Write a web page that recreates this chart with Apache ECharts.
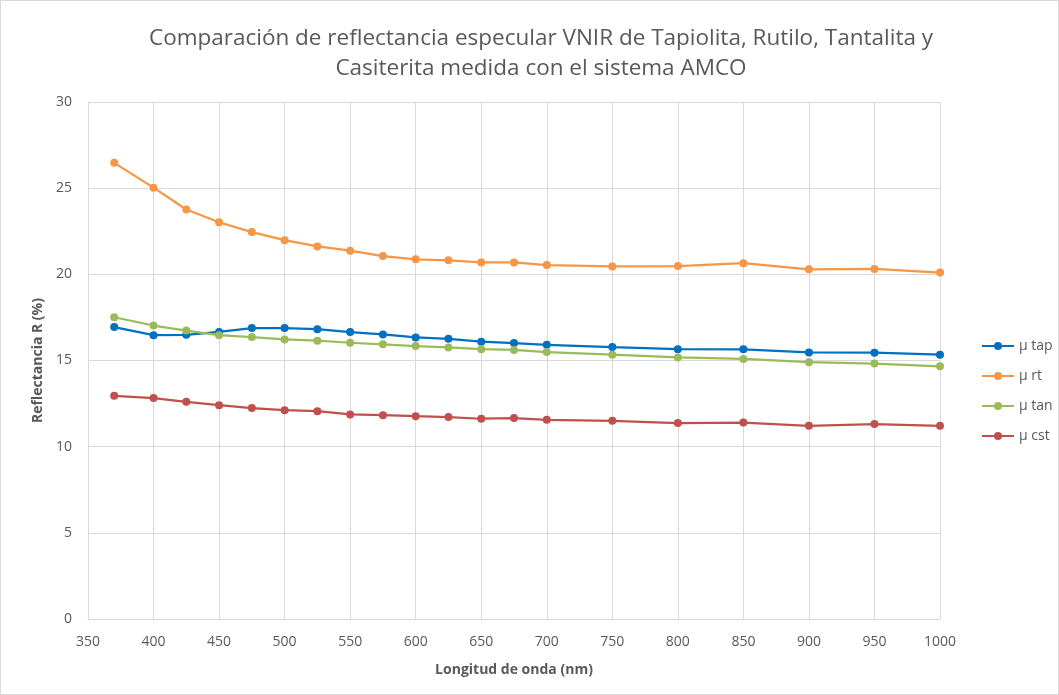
<!DOCTYPE html>
<html>
<head>
<meta charset="utf-8">
<script src="https://cdn.jsdelivr.net/npm/echarts@6/dist/echarts.min.js"></script>
<style>
  html, body { margin: 0; padding: 0; background: #fff; }
  #chart { width: 1057px; height: 693px; border: 1px solid #d9d9d9; }
</style>
</head>
<body>
<div id="chart"></div>
<script>
// longitudes de onda (nm)
var wavelengths = [370, 400, 425, 450, 475, 500, 525, 550, 575, 600, 625, 650, 675, 700, 750, 800, 850, 900, 950, 1000];
// reflectancia media (%)
var muTap = [16.94, 16.47, 16.49, 16.66, 16.88, 16.88, 16.82, 16.65, 16.51, 16.34, 16.26, 16.09, 16.01, 15.91, 15.78, 15.66, 15.65, 15.47, 15.45, 15.34];
var muRt  = [26.47, 25.03, 23.76, 23.02, 22.45, 21.98, 21.62, 21.37, 21.06, 20.87, 20.81, 20.69, 20.69, 20.54, 20.46, 20.48, 20.65, 20.29, 20.31, 20.10];
var muTan = [17.51, 17.03, 16.74, 16.47, 16.36, 16.22, 16.15, 16.03, 15.94, 15.84, 15.76, 15.66, 15.61, 15.49, 15.34, 15.18, 15.09, 14.90, 14.82, 14.66];
var muCst = [12.95, 12.82, 12.60, 12.41, 12.24, 12.12, 12.06, 11.87, 11.83, 11.77, 11.72, 11.62, 11.66, 11.56, 11.50, 11.37, 11.40, 11.21, 11.31, 11.21];

var seriesNames = ['µ tap', 'µ rt', 'µ tan', 'µ cst'];
var seriesColors = ['#0070C0', '#F79646', '#9BBB59', '#C0504D'];
var seriesData = [muTap, muRt, muTan, muCst];

function pairs(ys) {
  return wavelengths.map(function (x, i) { return [x, ys[i]]; });
}

var txt = '#595959';
var fontFam = '"Open Sans", "Noto Sans", sans-serif';

var chart = echarts.init(document.getElementById('chart'), null, { renderer: 'canvas' });
chart.setOption({
  backgroundColor: '#fff',
  animation: false,
  textStyle: { fontFamily: fontFam },
  title: {
    text: 'Comparación de reflectancia especular VNIR de Tapiolita, Rutilo, Tantalita y\nCasiterita medida con el sistema AMCO',
    left: 535, top: 18, textAlign: 'center',
    textStyle: { fontFamily: fontFam, fontSize: 22.5, fontWeight: 'normal', color: txt, lineHeight: 30 }
  },
  legend: {
    orient: 'vertical', left: 975, top: 333, itemGap: 16,
    itemWidth: 32, itemHeight: 10,
    textStyle: { color: txt, fontSize: 14, fontFamily: fontFam },
    data: seriesNames
  },
  grid: { left: 87, right: 118, top: 101, bottom: 75 },
  xAxis: {
    type: 'value', min: 350, max: 1000, interval: 50,
    name: 'Longitud de onda (nm)', nameLocation: 'middle', nameGap: 44,
    nameTextStyle: { color: txt, fontSize: 14, fontWeight: 'bold' },
    axisLine: { lineStyle: { color: '#d9d9d9' } },
    axisTick: { show: false },
    axisLabel: { color: txt, fontSize: 14, margin: 16, formatter: function (v) { return String(v); } },
    splitLine: { show: true, lineStyle: { color: '#d9d9d9' } }
  },
  yAxis: {
    type: 'value', min: 0, max: 30, interval: 5,
    name: 'Reflectancia R (%)', nameLocation: 'middle', nameGap: 42,
    nameTextStyle: { color: txt, fontSize: 14, fontWeight: 'bold' },
    axisLine: { show: false },
    axisTick: { show: false },
    axisLabel: { color: txt, fontSize: 14, margin: 16 },
    splitLine: { show: true, lineStyle: { color: '#d9d9d9' } }
  },
  series: seriesNames.map(function (name, i) {
    return {
      name: name, type: 'line', data: pairs(seriesData[i]),
      symbol: 'circle', symbolSize: 8,
      lineStyle: { width: 2.25, color: seriesColors[i] },
      itemStyle: { color: seriesColors[i] }
    };
  })
});
</script>
</body>
</html>
